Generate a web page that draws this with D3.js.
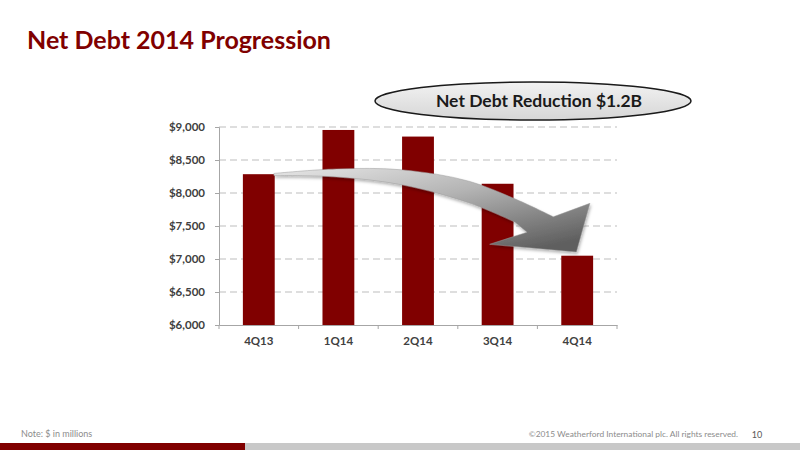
<!DOCTYPE html>
<html>
<head>
<meta charset="utf-8">
<script src="https://cdn.jsdelivr.net/npm/d3@7"></script>
<style>
  body { margin: 0; background: #fff; }
  svg { display: block; font-family: Lato, "Open Sans", sans-serif; }
</style>
</head>
<body>
<script>
// quarters and net debt ($ millions)
let quarters = ["4Q13", "1Q14", "2Q14", "3Q14", "4Q14"];
let netDebt = [8285, 8955, 8855, 8140, 7050];
let yTicks = [6000, 6500, 7000, 7500, 8000, 8500, 9000];

// arrow outline in chart units: [category position, value]
let arrowTop = [[0.69, 8296], [1.48, 8365], [2.31, 8350], [3.15, 8175], [3.78, 7878], [4.20, 7639]];
let arrowHead = [[4.66, 7843], [4.49, 7106], [3.40, 7223], [3.87, 7406]];
let arrowBottom = [[3.72, 7558], [3.15, 7847], [2.31, 8121], [1.48, 8243], [0.69, 8266]];

let width = 800;
let height = 450;
let margin = {top: 127, right: 183, bottom: 125, left: 219};

let svg = d3.select("body")
            .append("svg")
            .attr("width", width)
            .attr("height", height)

let x = d3.scaleBand()
          .domain(quarters)
          .range([margin.left, width - margin.right])
          .paddingInner(0.6)
          .paddingOuter(0.3)

let y = d3.scaleLinear()
          .domain([6000, 9000])
          .range([height - margin.bottom, margin.top])

// category position -> pixel (0 = left edge of plot, 1 = one band step)
let ux = d3.scaleLinear()
           .domain([0, quarters.length])
           .range([margin.left, width - margin.right])

// title
svg.append("text")
   .attr("x", 27)
   .attr("y", 49)
   .attr("fill", "#800000")
   .style("font-size", "25px")
   .style("font-weight", "bold")
   .text("Net Debt 2014 Progression")

// gridlines
svg.append("g")
   .selectAll("line")
   .data(yTicks.filter(d => d > 6000))
   .join("line")
   .attr("x1", margin.left)
   .attr("x2", width - margin.right)
   .attr("y1", d => y(d))
   .attr("y2", d => y(d))
   .attr("stroke", "#bdbdbd")
   .attr("stroke-width", 1)
   .attr("stroke-dasharray", "7,4")

// y axis
let yAxis = svg.append("g")
   .attr("transform", `translate(${margin.left},0)`)
   .call(d3.axisLeft(y).tickValues(yTicks).tickSize(4).tickPadding(10).tickFormat(d => "$" + d3.format(",")(d)))
yAxis.select(".domain").attr("stroke", "#a6a6a6")
yAxis.selectAll(".tick line").attr("stroke", "#a6a6a6")
yAxis.selectAll("text")
     .attr("fill", "#404040")
     .style("font-size", "11.5px")
     .style("font-weight", "bold")
     .style("font-family", "Lato, sans-serif")

// x axis, ticks sit between categories
let xAxis = svg.append("g")
   .attr("transform", `translate(0,${y(6000)})`)
   .call(d3.axisBottom(x).tickSize(0).tickPadding(12))
xAxis.select(".domain").attr("stroke", "#a6a6a6")
xAxis.selectAll("text")
     .attr("fill", "#404040")
     .style("font-size", "11.5px")
     .style("font-weight", "bold")
     .style("font-family", "Lato, sans-serif")
svg.append("g")
   .selectAll("line")
   .data(d3.range(quarters.length + 1))
   .join("line")
   .attr("x1", d => ux(d))
   .attr("x2", d => ux(d))
   .attr("y1", y(6000))
   .attr("y2", y(6000) + 4)
   .attr("stroke", "#a6a6a6")

// bars
svg.append("g")
   .selectAll("rect")
   .data(netDebt)
   .join("rect")
   .attr("x", (d, i) => x(quarters[i]))
   .attr("y", d => y(d))
   .attr("width", x.bandwidth())
   .attr("height", d => y(6000) - y(d))
   .attr("fill", "#800000")

// curved arrow
let defs = svg.append("defs")
let grad = defs.append("linearGradient")
               .attr("id", "arrowGrad")
               .attr("x1", "0").attr("y1", "0")
               .attr("x2", "0.8").attr("y2", "1")
grad.append("stop").attr("offset", "0").attr("stop-color", "#e6e6e6")
grad.append("stop").attr("offset", "0.45").attr("stop-color", "#b4b4b4")
grad.append("stop").attr("offset", "1").attr("stop-color", "#5e5e5e")
let shadow = defs.append("filter").attr("id", "shadow")
                 .attr("x", "-10%").attr("y", "-10%").attr("width", "130%").attr("height", "140%")
shadow.append("feDropShadow")
      .attr("dx", 1).attr("dy", 2).attr("stdDeviation", 1.5)
      .attr("flood-color", "#000").attr("flood-opacity", 0.3)

let curve = d3.line()
              .x(d => ux(d[0]))
              .y(d => y(d[1]))
              .curve(d3.curveCatmullRom)
let straight = d3.line()
                 .x(d => ux(d[0]))
                 .y(d => y(d[1]))
let topPath = curve(arrowTop)
let headPath = straight([arrowTop[arrowTop.length - 1]].concat(arrowHead, [arrowBottom[0]])).replace(/^M/, "L")
let bottomPath = curve(arrowBottom).replace(/^M/, "L")
svg.append("path")
   .attr("d", topPath + headPath + bottomPath + "Z")
   .attr("fill", "url(#arrowGrad)")
   .attr("stroke", "#9a9a9a")
   .attr("stroke-width", 0.5)
   .attr("filter", "url(#shadow)")

// callout ellipse
let ellGrad = defs.append("linearGradient")
                  .attr("id", "ellGrad")
                  .attr("x1", "0").attr("y1", "0").attr("x2", "0").attr("y2", "1")
ellGrad.append("stop").attr("offset", "0").attr("stop-color", "#f2f2f2")
ellGrad.append("stop").attr("offset", "1").attr("stop-color", "#d6d6d6")
svg.append("ellipse")
   .attr("cx", 533)
   .attr("cy", 101)
   .attr("rx", 158)
   .attr("ry", 19)
   .attr("fill", "url(#ellGrad)")
   .attr("stroke", "#1a1a1a")
   .attr("stroke-width", 1.5)
svg.append("text")
   .attr("x", 539)
   .attr("y", 107)
   .attr("text-anchor", "middle")
   .attr("fill", "#1a1a1a")
   .style("font-size", "17.5px")
   .style("font-weight", "bold")
   .text("Net Debt Reduction $1.2B")

// footer
svg.append("text")
   .attr("x", 21)
   .attr("y", 437)
   .attr("fill", "#8c8c8c")
   .style("font-size", "9px")
   .text("Note: $ in millions")
svg.append("text")
   .attr("x", 738)
   .attr("y", 437)
   .attr("text-anchor", "end")
   .attr("fill", "#8c8c8c")
   .style("font-size", "8.4px")
   .text("©2015 Weatherford International plc.  All rights reserved.")
svg.append("text")
   .attr("x", 757)
   .attr("y", 438)
   .attr("text-anchor", "middle")
   .attr("fill", "#595959")
   .style("font-size", "9px")
   .text("10")
svg.append("rect")
   .attr("x", 0).attr("y", 443).attr("width", 245).attr("height", 7)
   .attr("fill", "#800000")
svg.append("rect")
   .attr("x", 245).attr("y", 443).attr("width", 555).attr("height", 7)
   .attr("fill", "#c8c8c8")
</script>
</body>
</html>
